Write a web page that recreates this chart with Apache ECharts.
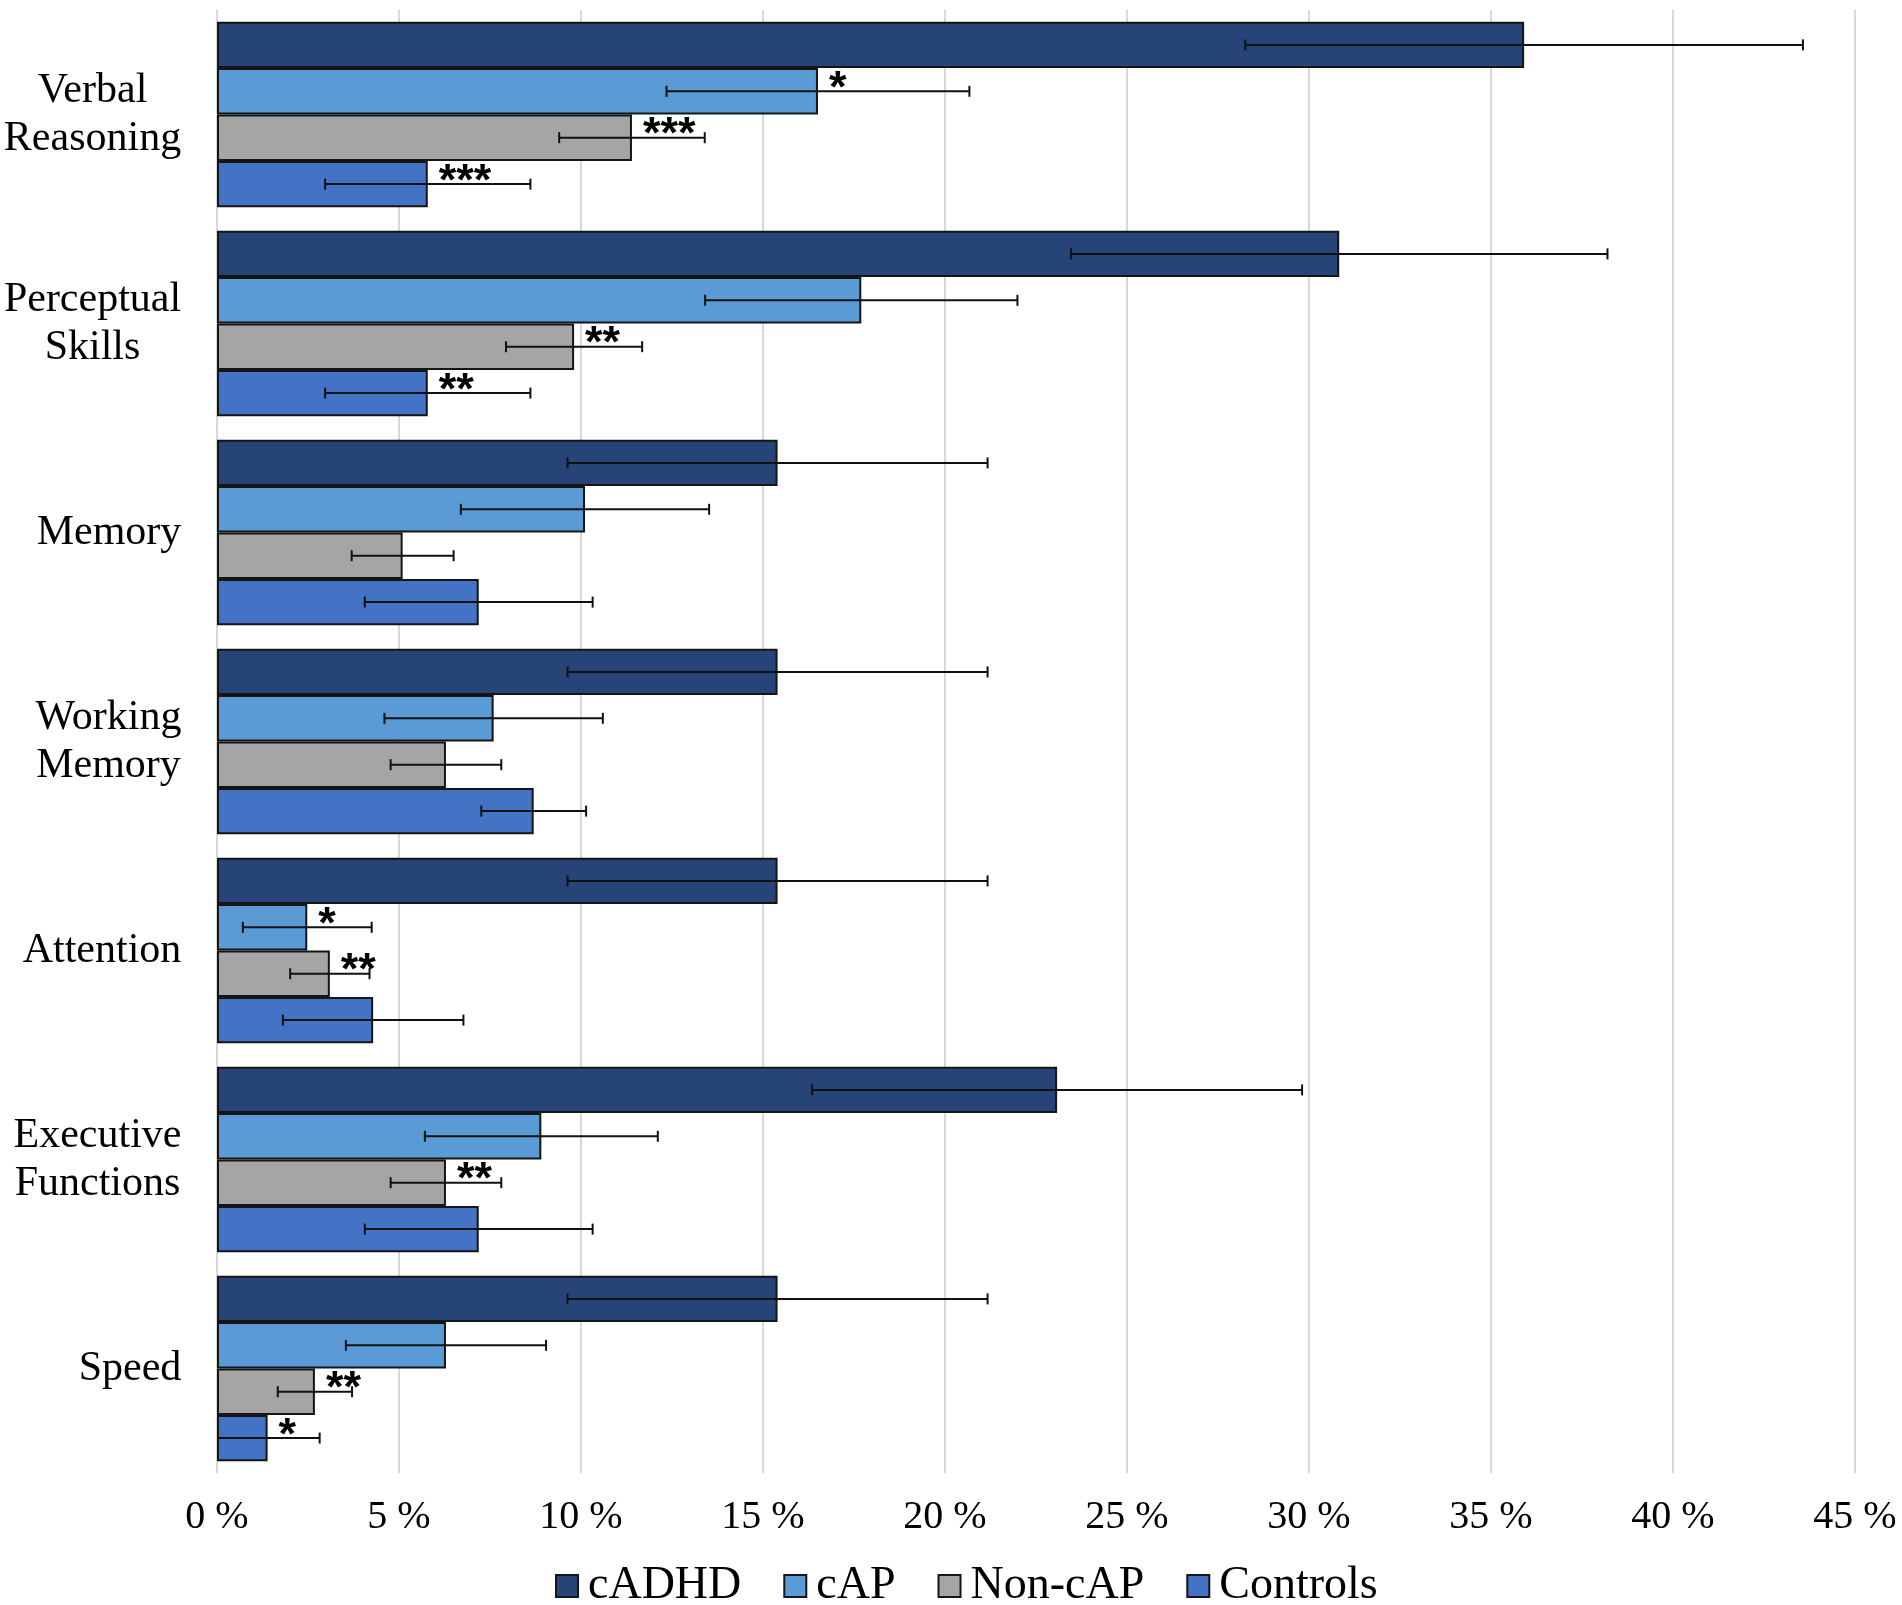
<!DOCTYPE html>
<html><head><meta charset="utf-8">
<script src="https://cdn.jsdelivr.net/npm/echarts@6/dist/echarts.min.js"></script>
<style>html,body{margin:0;padding:0;background:#fff}#c{width:1902px;height:1605px}</style>
</head><body><div id="c"></div>
<script>
// ---- data ----
const categories = ['Verbal\nReasoning', 'Perceptual\nSkills', 'Memory', 'Working\nMemory', 'Attention', 'Executive\nFunctions', 'Speed'];
const seriesNames = ['cADHD', 'cAP', 'Non-cAP', 'Controls'];
const valCADHD    = [35.91, 30.83, 15.40, 15.40, 15.40, 23.08, 15.40];
const valCAP      = [16.51, 17.70, 10.11, 7.60, 2.48, 8.91, 6.29];
const valNonCAP   = [11.40, 9.81, 5.10, 6.29, 3.10, 6.29, 2.69];
const valControls = [5.79, 5.79, 7.19, 8.70, 4.29, 7.19, 1.39];
const errCADHD    = [7.66, 7.37, 5.77, 5.77, 5.77, 6.73, 5.77];
const errCAP      = [4.16, 4.29, 3.41, 3.00, 1.77, 3.20, 2.75];
const errNonCAP   = [2.00, 1.87, 1.40, 1.52, 1.09, 1.52, 1.02];
const errControls = [2.82, 2.82, 3.13, 1.44, 2.48, 3.13, 1.43];
const sigCADHD    = ['', '', '', '', '', '', ''];
const sigCAP      = ['*', '', '', '', '*', '', ''];
const sigNonCAP   = ['***', '**', '', '', '**', '**', '**'];
const sigControls = ['***', '**', '', '', '', '', '*'];
const xTicks = [0, 5, 10, 15, 20, 25, 30, 35, 40, 45];

// ---- build ----
const values = [valCADHD, valCAP, valNonCAP, valControls];
const errs = [errCADHD, errCAP, errNonCAP, errControls];
const sigs = [sigCADHD, sigCAP, sigNonCAP, sigControls];
const colors = ['#264478', '#5B9BD5', '#A5A5A5', '#4472C4'];
const FONT = '"Liberation Serif", "Times New Roman", serif';
const CAT_GAP = 0.112;

// per-label rich styles so that lines are centred within a right-aligned block
const ctx = document.createElement('canvas').getContext('2d');
ctx.font = '42px "Liberation Serif"';
const rich = {};
categories.forEach((c, i) => {
  const w = Math.max(...c.split('\n').map(l => ctx.measureText(l).width));
  rich['c' + i] = { width: Math.ceil(w) + 1, align: 'center', fontSize: 42, lineHeight: 48, fontFamily: FONT, color: '#000' };
});

function errRender(si) {
  return function (params, api) {
    const cat = api.value(0);
    const loRaw = api.value(1), hi = api.value(2);
    const lo = Math.max(0, loRaw);
    const band = api.size([0, 1])[1];
    const bw = band * (1 - CAT_GAP) / 4;
    const a = api.coord([lo, cat]);
    const b = api.coord([hi, cat]);
    const y = a[1] + (si - 1.5) * bw;
    const h = 5.5;
    const style = { stroke: '#111', lineWidth: 2 };
    const children = [
      { type: 'line', shape: { x1: a[0], y1: y, x2: b[0], y2: y }, style },
      { type: 'line', shape: { x1: b[0], y1: y - h, x2: b[0], y2: y + h }, style }
    ];
    if (loRaw > 0) children.push({ type: 'line', shape: { x1: a[0], y1: y - h, x2: a[0], y2: y + h }, style });
    return { type: 'group', children };
  };
}

const series = [];
seriesNames.forEach((name, si) => {
  series.push({
    name, type: 'bar',
    data: values[si],
    barGap: '0%', barCategoryGap: (CAT_GAP * 100) + '%',
    itemStyle: { color: colors[si], borderColor: '#151515', borderWidth: 2 },
    label: {
      show: true, position: 'right', distance: 11, offset: [0, -2],
      formatter: p => sigs[si][p.dataIndex],
      fontSize: 45, fontWeight: 'bold', fontFamily: '"Liberation Sans", Arial, sans-serif', color: '#000'
    },
    z: 2
  });
});
seriesNames.forEach((name, si) => {
  series.push({
    name: name + ' error', type: 'custom',
    renderItem: errRender(si),
    encode: { x: [1, 2], y: 0 },
    data: values[si].map((v, i) => [i, v - errs[si][i], v + errs[si][i]]),
    z: 5, silent: true
  });
});

const chart = echarts.init(document.getElementById('c'));
chart.setOption({
  animation: false,
  backgroundColor: '#fff',
  grid: { left: 217, right: 47, top: 10, bottom: 132 },
  legend: {
    data: seriesNames, left: 550, top: 1558, icon: 'rect',
    itemWidth: 22, itemHeight: 22, itemGap: 42,
    textStyle: { fontSize: 46, fontFamily: FONT, color: '#000', padding: [0, 0, 0, 5] }
  },
  xAxis: {
    type: 'value', min: xTicks[0], max: xTicks[xTicks.length - 1], interval: xTicks[1] - xTicks[0],
    axisLine: { show: false }, axisTick: { show: false },
    splitLine: { show: true, lineStyle: { color: '#d9d9d9', width: 2 } },
    axisLabel: { formatter: v => v + ' %', fontSize: 40, fontFamily: FONT, color: '#000', margin: 24 }
  },
  yAxis: {
    type: 'category', data: categories, inverse: true,
    axisLine: { show: false }, axisTick: { show: false },
    axisLabel: {
      align: 'right', margin: 35,
      formatter: (v, i) => v.split('\n').map(l => '{c' + i + '|' + l + '}').join('\n'),
      rich
    }
  },
  series
});
</script>
</body></html>
